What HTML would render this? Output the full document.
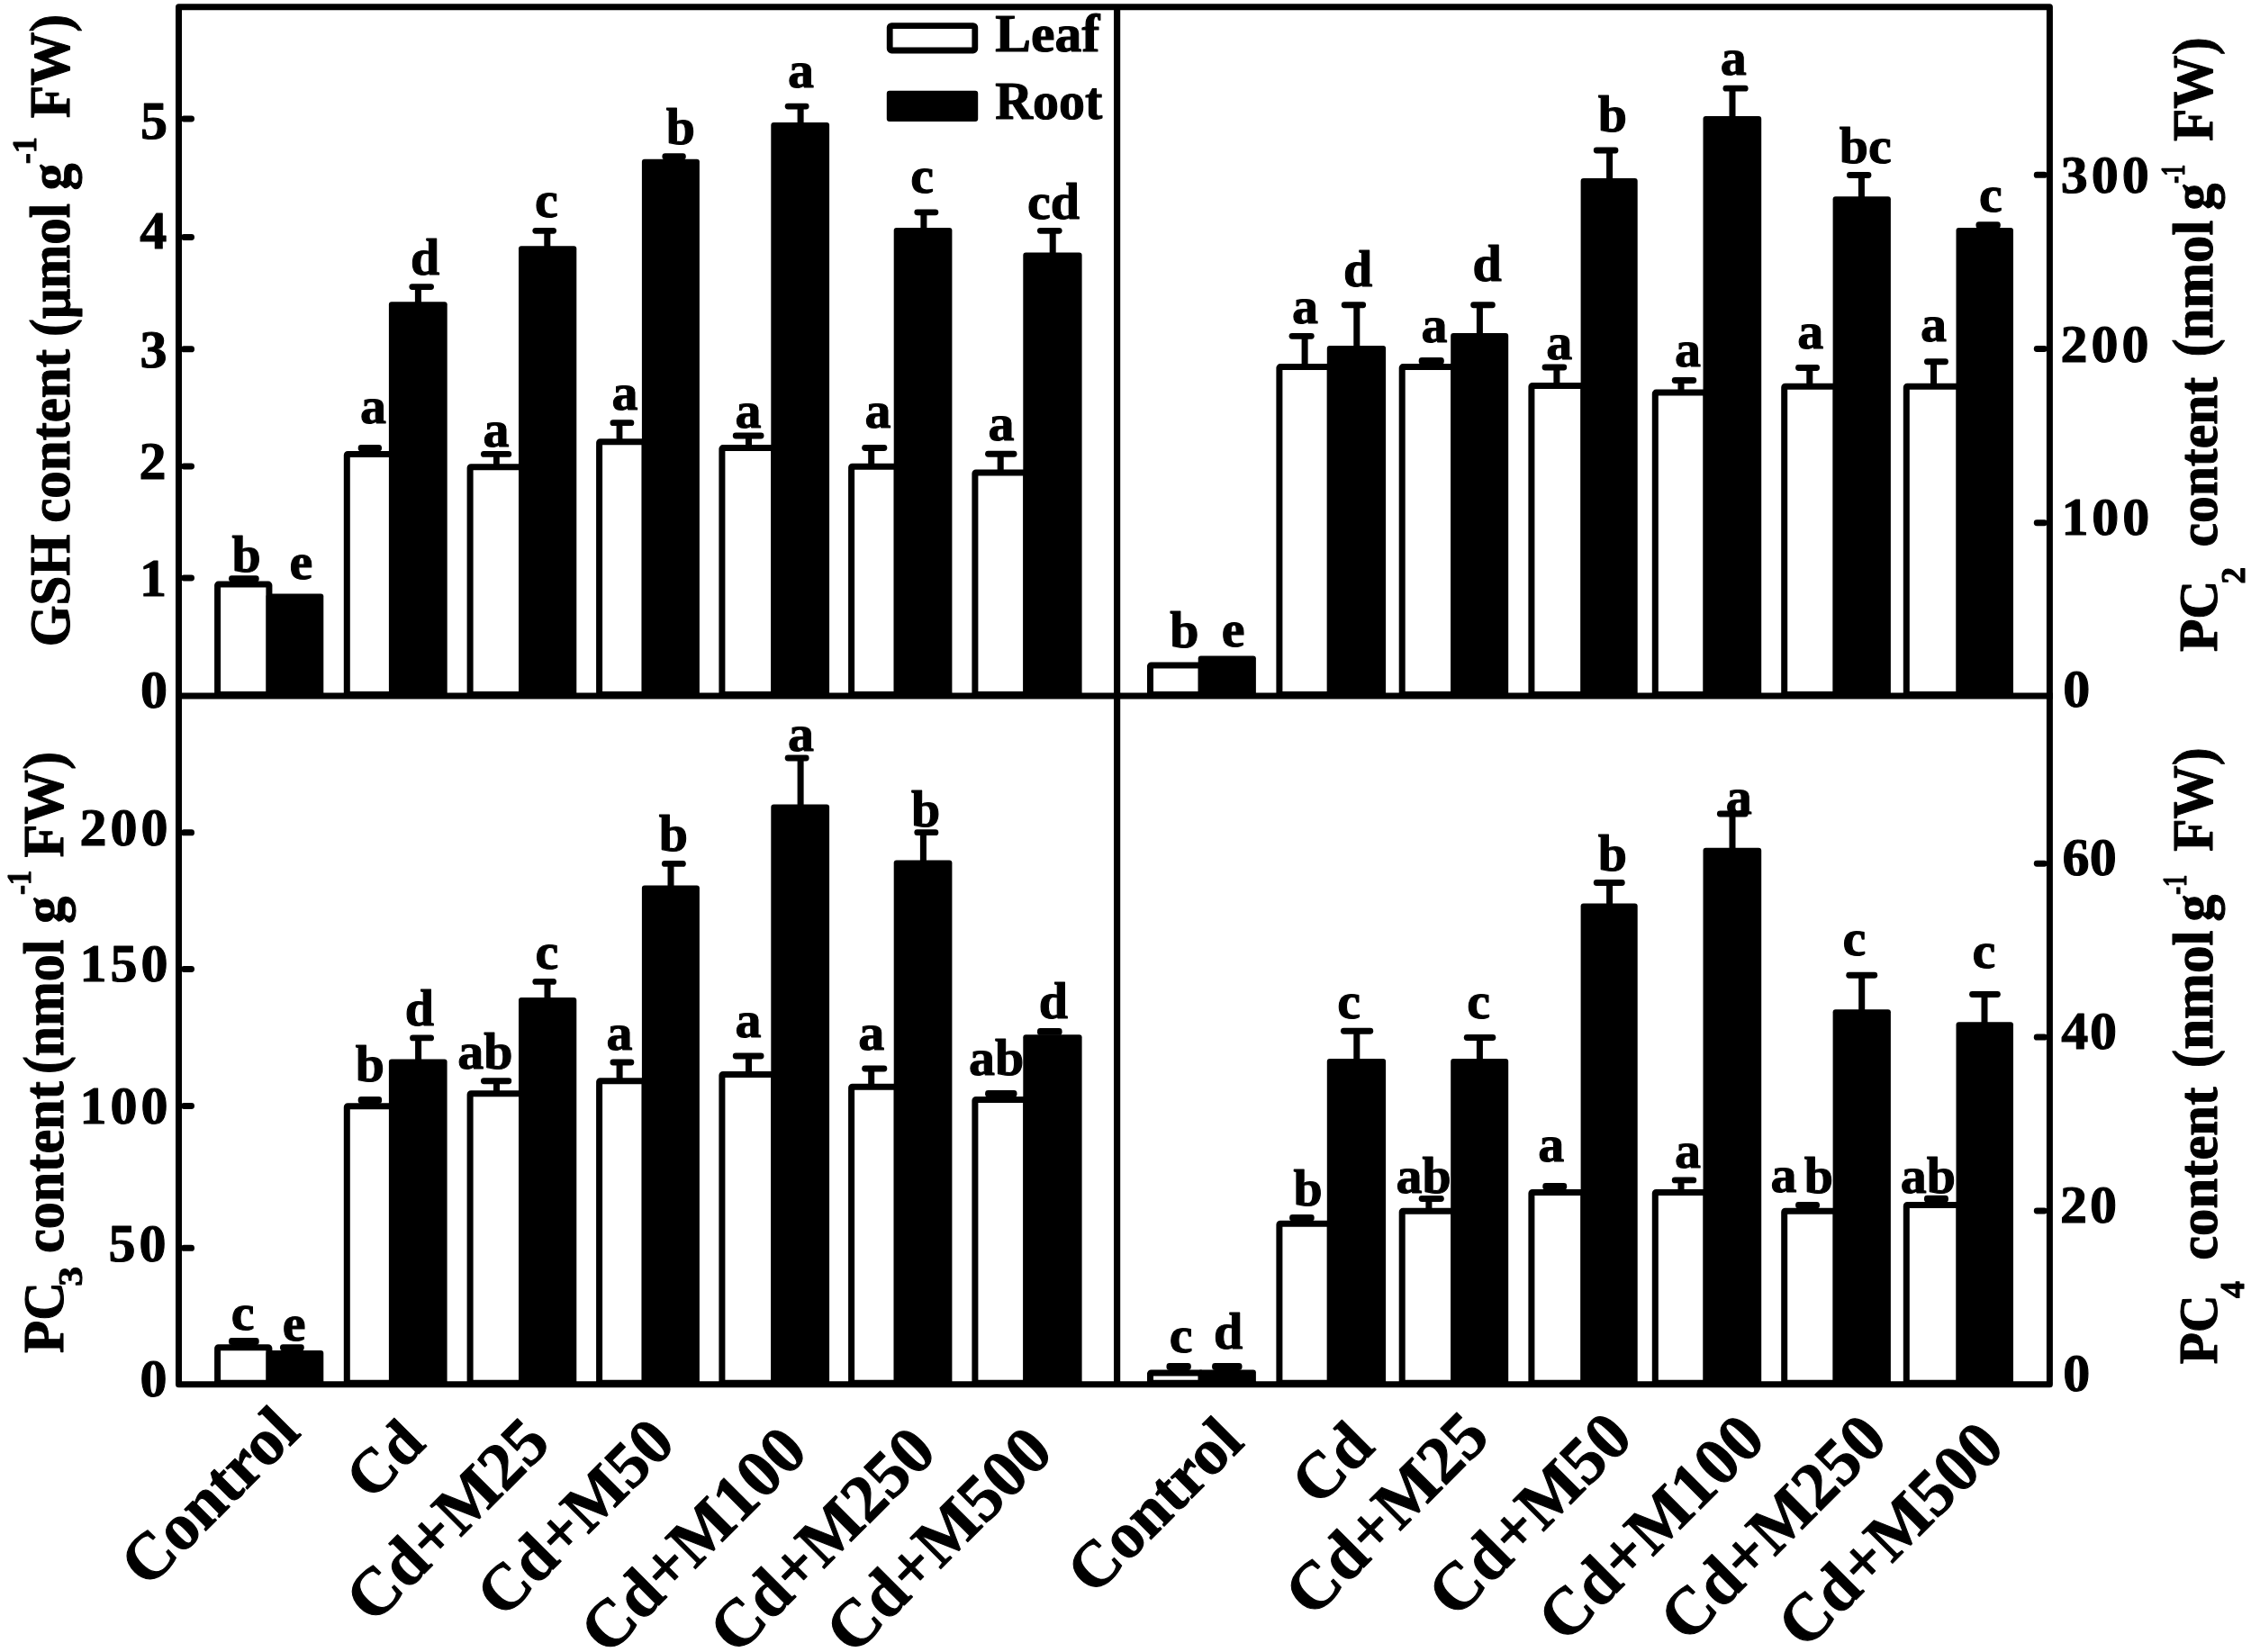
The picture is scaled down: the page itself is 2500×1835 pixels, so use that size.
<!DOCTYPE html>
<html><head><meta charset="utf-8"><title>GSH and PC content</title>
<style>
html,body{margin:0;padding:0;background:#fff;}
svg{display:block;}
text{font-family:"Liberation Serif",serif;font-weight:bold;fill:#000;stroke:#000;stroke-width:1.1px;stroke-linejoin:round;}
</style></head><body>
<svg width="2500" height="1835" viewBox="0 0 2500 1835">
<defs><filter id="soft" x="0" y="0" width="2500" height="1835" filterUnits="userSpaceOnUse"><feGaussianBlur stdDeviation="0.65"/></filter></defs>
<rect width="2500" height="1835" fill="#fff"/>
<g filter="url(#soft)">
<rect width="2500" height="1835" fill="#fff"/>
<rect x="241.6" y="649.1" width="57.3" height="122.4" fill="#fff" stroke="#000" stroke-width="7.0" rx="1"/>
<rect x="385.3" y="504.4" width="50.2" height="267.1" fill="#fff" stroke="#000" stroke-width="7.0" rx="1"/>
<rect x="522.1" y="518.8" width="57.4" height="252.7" fill="#fff" stroke="#000" stroke-width="7.0" rx="1"/>
<rect x="665.6" y="490.7" width="50.4" height="280.8" fill="#fff" stroke="#000" stroke-width="7.0" rx="1"/>
<rect x="801.9" y="497.6" width="57.9" height="273.9" fill="#fff" stroke="#000" stroke-width="7.0" rx="1"/>
<rect x="945.6" y="518.3" width="50.6" height="253.2" fill="#fff" stroke="#000" stroke-width="7.0" rx="1"/>
<rect x="1082.9" y="524.9" width="56.9" height="246.6" fill="#fff" stroke="#000" stroke-width="7.0" rx="1"/>
<rect x="295.6" y="659.5" width="63.7" height="113.5" fill="#000" rx="3"/>
<rect x="431.9" y="335.2" width="64.8" height="437.8" fill="#000" rx="3"/>
<rect x="576.0" y="273.2" width="64.3" height="499.8" fill="#000" rx="3"/>
<rect x="712.9" y="176.8" width="64.0" height="596.2" fill="#000" rx="3"/>
<rect x="856.3" y="136.1" width="64.8" height="636.9" fill="#000" rx="3"/>
<rect x="992.7" y="252.9" width="64.7" height="520.1" fill="#000" rx="3"/>
<rect x="1136.3" y="280.5" width="65.3" height="492.5" fill="#000" rx="3"/>
<rect x="254.0" y="639.2" width="33.7" height="7.3" fill="#000" rx="3.4"/>
<rect x="397.7" y="494.0" width="26.3" height="7.5" fill="#000" rx="3.4"/>
<rect x="548.0" y="504.4" width="6.8" height="12.9" fill="#000"/>
<rect x="534.0" y="501.0" width="34.2" height="6.8" fill="#000" rx="3.4"/>
<rect x="684.6" y="469.6" width="6.8" height="19.6" fill="#000"/>
<rect x="677.5" y="466.3" width="26.8" height="6.7" fill="#000" rx="3.4"/>
<rect x="828.0" y="484.0" width="7.0" height="12.1" fill="#000"/>
<rect x="813.8" y="480.5" width="34.7" height="7.0" fill="#000" rx="3.4"/>
<rect x="964.2" y="497.6" width="7.0" height="19.2" fill="#000"/>
<rect x="957.2" y="494.1" width="28.1" height="6.9" fill="#000" rx="3.4"/>
<rect x="1107.7" y="504.2" width="7.0" height="19.1" fill="#000"/>
<rect x="1094.1" y="500.8" width="35.4" height="6.9" fill="#000" rx="3.4"/>
<rect x="460.9" y="318.6" width="7.0" height="18.6" fill="#000"/>
<rect x="454.4" y="315.2" width="27.6" height="6.8" fill="#000" rx="3.4"/>
<rect x="604.3" y="256.3" width="7.0" height="18.9" fill="#000"/>
<rect x="591.4" y="252.9" width="26.6" height="6.8" fill="#000" rx="3.4"/>
<rect x="735.4" y="170.3" width="26.4" height="7.2" fill="#000" rx="3.4"/>
<rect x="885.6" y="118.1" width="7.0" height="20.0" fill="#000"/>
<rect x="871.7" y="114.7" width="26.9" height="6.8" fill="#000" rx="3.4"/>
<rect x="1022.4" y="235.8" width="7.0" height="19.1" fill="#000"/>
<rect x="1015.4" y="232.4" width="26.9" height="6.8" fill="#000" rx="3.4"/>
<rect x="1165.7" y="256.3" width="7.0" height="26.2" fill="#000"/>
<rect x="1152.0" y="252.9" width="27.6" height="6.8" fill="#000" rx="3.4"/>
<text x="257.5" y="634.9" font-size="58">b</text>
<text x="321.4" y="643.0" font-size="58">e</text>
<text x="400.0" y="469.8" font-size="58">a</text>
<text x="456.1" y="304.7" font-size="58">d</text>
<text x="536.5" y="496.4" font-size="58">a</text>
<text x="594.1" y="241.4" font-size="58">c</text>
<text x="679.6" y="454.6" font-size="58">a</text>
<text x="739.7" y="159.7" font-size="58">b</text>
<text x="816.6" y="475.0" font-size="58">a</text>
<text x="875.0" y="97.0" font-size="58">a</text>
<text x="960.6" y="475.2" font-size="58">a</text>
<text x="1011.3" y="213.7" font-size="58">c</text>
<text x="1097.4" y="488.5" font-size="58">a</text>
<text x="1141.1" y="242.5" font-size="58">cd</text>
<rect x="1277.5" y="739.0" width="56.7" height="32.5" fill="#fff" stroke="#000" stroke-width="7.0" rx="1"/>
<rect x="1420.9" y="407.6" width="56.4" height="363.9" fill="#fff" stroke="#000" stroke-width="7.0" rx="1"/>
<rect x="1557.2" y="407.6" width="57.5" height="363.9" fill="#fff" stroke="#000" stroke-width="7.0" rx="1"/>
<rect x="1700.9" y="428.4" width="57.9" height="343.1" fill="#fff" stroke="#000" stroke-width="7.0" rx="1"/>
<rect x="1838.3" y="436.1" width="56.7" height="335.4" fill="#fff" stroke="#000" stroke-width="7.0" rx="1"/>
<rect x="1981.7" y="429.3" width="57.4" height="342.2" fill="#fff" stroke="#000" stroke-width="7.0" rx="1"/>
<rect x="2117.3" y="429.3" width="58.7" height="342.2" fill="#fff" stroke="#000" stroke-width="7.0" rx="1"/>
<rect x="1330.7" y="728.6" width="64.2" height="44.4" fill="#000" rx="3"/>
<rect x="1473.8" y="384.1" width="65.3" height="388.9" fill="#000" rx="3"/>
<rect x="1611.2" y="369.9" width="64.0" height="403.1" fill="#000" rx="3"/>
<rect x="1755.6" y="198.1" width="63.1" height="574.9" fill="#000" rx="3"/>
<rect x="1891.5" y="129.1" width="64.7" height="643.9" fill="#000" rx="3"/>
<rect x="2035.6" y="218.3" width="64.3" height="554.7" fill="#000" rx="3"/>
<rect x="2172.5" y="253.0" width="63.5" height="520.0" fill="#000" rx="3"/>
<rect x="1445.6" y="373.3" width="7.0" height="32.8" fill="#000"/>
<rect x="1431.6" y="369.9" width="28.1" height="6.8" fill="#000" rx="3.4"/>
<rect x="1575.7" y="397.1" width="28.1" height="7.7" fill="#000" rx="3.4"/>
<rect x="1725.4" y="407.9" width="7.0" height="18.9" fill="#000"/>
<rect x="1712.6" y="404.5" width="27.6" height="6.9" fill="#000" rx="3.4"/>
<rect x="1863.5" y="422.4" width="7.0" height="12.2" fill="#000"/>
<rect x="1856.8" y="419.0" width="27.4" height="6.9" fill="#000" rx="3.4"/>
<rect x="2006.3" y="408.4" width="7.0" height="19.4" fill="#000"/>
<rect x="1994.1" y="405.0" width="26.9" height="6.9" fill="#000" rx="3.4"/>
<rect x="2144.0" y="401.8" width="7.0" height="26.1" fill="#000"/>
<rect x="2137.0" y="398.3" width="26.9" height="6.9" fill="#000" rx="3.4"/>
<rect x="1503.3" y="338.8" width="7.0" height="47.4" fill="#000"/>
<rect x="1489.7" y="335.3" width="27.4" height="6.9" fill="#000" rx="3.4"/>
<rect x="1639.9" y="338.8" width="7.0" height="33.1" fill="#000"/>
<rect x="1633.2" y="335.3" width="27.6" height="6.9" fill="#000" rx="3.4"/>
<rect x="1784.1" y="167.1" width="7.0" height="33.0" fill="#000"/>
<rect x="1769.8" y="163.6" width="27.6" height="6.9" fill="#000" rx="3.4"/>
<rect x="1920.5" y="98.2" width="7.0" height="32.9" fill="#000"/>
<rect x="1913.5" y="94.7" width="28.1" height="6.9" fill="#000" rx="3.4"/>
<rect x="2063.9" y="194.4" width="7.0" height="25.9" fill="#000"/>
<rect x="2051.0" y="191.0" width="27.4" height="6.9" fill="#000" rx="3.4"/>
<rect x="2194.5" y="246.2" width="27.3" height="7.6" fill="#000" rx="3.4"/>
<text x="1299.3" y="718.5" font-size="58">b</text>
<text x="1356.7" y="718.2" font-size="58">e</text>
<text x="1434.9" y="358.8" font-size="58">a</text>
<text x="1491.9" y="318.3" font-size="58">d</text>
<text x="1578.6" y="379.6" font-size="58">a</text>
<text x="1635.5" y="311.5" font-size="58">d</text>
<text x="1717.2" y="399.1" font-size="58">a</text>
<text x="1774.7" y="146.0" font-size="58">b</text>
<text x="1859.9" y="406.9" font-size="58">a</text>
<text x="1910.7" y="83.2" font-size="58">a</text>
<text x="1996.3" y="386.7" font-size="58">a</text>
<text x="2042.8" y="180.6" font-size="58">bc</text>
<text x="2133.1" y="378.8" font-size="58">a</text>
<text x="2198.0" y="234.6" font-size="58">c</text>
<rect x="241.6" y="1496.8" width="57.3" height="39.5" fill="#fff" stroke="#000" stroke-width="7.0" rx="1"/>
<rect x="385.3" y="1228.8" width="50.2" height="307.5" fill="#fff" stroke="#000" stroke-width="7.0" rx="1"/>
<rect x="522.1" y="1214.7" width="57.4" height="321.6" fill="#fff" stroke="#000" stroke-width="7.0" rx="1"/>
<rect x="665.6" y="1200.7" width="50.4" height="335.6" fill="#fff" stroke="#000" stroke-width="7.0" rx="1"/>
<rect x="801.9" y="1193.4" width="57.9" height="342.9" fill="#fff" stroke="#000" stroke-width="7.0" rx="1"/>
<rect x="945.6" y="1207.3" width="50.6" height="329.0" fill="#fff" stroke="#000" stroke-width="7.0" rx="1"/>
<rect x="1082.9" y="1221.5" width="56.9" height="314.8" fill="#fff" stroke="#000" stroke-width="7.0" rx="1"/>
<rect x="295.6" y="1499.9" width="63.7" height="37.9" fill="#000" rx="3"/>
<rect x="431.9" y="1176.5" width="64.7" height="361.3" fill="#000" rx="3"/>
<rect x="576.0" y="1108.0" width="64.3" height="429.8" fill="#000" rx="3"/>
<rect x="712.9" y="983.5" width="64.0" height="554.3" fill="#000" rx="3"/>
<rect x="856.3" y="893.6" width="64.8" height="644.2" fill="#000" rx="3"/>
<rect x="992.7" y="955.4" width="64.7" height="582.4" fill="#000" rx="3"/>
<rect x="1136.3" y="1149.2" width="65.3" height="388.6" fill="#000" rx="3"/>
<rect x="254.0" y="1486.0" width="33.7" height="8.0" fill="#000" rx="3.4"/>
<rect x="397.7" y="1218.0" width="26.4" height="8.0" fill="#000" rx="3.4"/>
<rect x="548.0" y="1200.7" width="7.0" height="12.5" fill="#000"/>
<rect x="534.0" y="1197.2" width="34.2" height="7.0" fill="#000" rx="3.4"/>
<rect x="684.6" y="1180.0" width="7.0" height="19.2" fill="#000"/>
<rect x="677.5" y="1176.5" width="26.8" height="7.0" fill="#000" rx="3.4"/>
<rect x="828.0" y="1173.0" width="7.0" height="18.9" fill="#000"/>
<rect x="813.8" y="1169.5" width="34.7" height="7.0" fill="#000" rx="3.4"/>
<rect x="964.2" y="1187.0" width="7.0" height="18.8" fill="#000"/>
<rect x="957.2" y="1183.5" width="28.1" height="6.9" fill="#000" rx="3.4"/>
<rect x="1094.1" y="1211.0" width="35.4" height="7.7" fill="#000" rx="3.4"/>
<rect x="311.0" y="1493.2" width="26.8" height="7.3" fill="#000" rx="3.4"/>
<rect x="461.1" y="1152.8" width="7.0" height="25.7" fill="#000"/>
<rect x="455.1" y="1149.4" width="26.9" height="6.9" fill="#000" rx="3.4"/>
<rect x="604.5" y="1090.3" width="7.0" height="19.7" fill="#000"/>
<rect x="591.4" y="1086.9" width="26.6" height="6.9" fill="#000" rx="3.4"/>
<rect x="741.5" y="959.3" width="7.0" height="26.2" fill="#000"/>
<rect x="734.9" y="955.9" width="26.9" height="6.9" fill="#000" rx="3.4"/>
<rect x="885.6" y="842.0" width="7.0" height="53.6" fill="#000"/>
<rect x="871.7" y="838.6" width="26.9" height="6.9" fill="#000" rx="3.4"/>
<rect x="1021.9" y="924.7" width="7.0" height="32.7" fill="#000"/>
<rect x="1015.4" y="921.2" width="26.9" height="6.9" fill="#000" rx="3.4"/>
<rect x="1152.0" y="1142.0" width="27.6" height="7.8" fill="#000" rx="3.4"/>
<text x="256.7" y="1476.5" font-size="58">c</text>
<text x="313.7" y="1488.9" font-size="58">e</text>
<text x="394.7" y="1200.7" font-size="58">b</text>
<text x="449.7" y="1139.0" font-size="58">d</text>
<text x="508.2" y="1186.6" font-size="58">ab</text>
<text x="594.4" y="1075.7" font-size="58">c</text>
<text x="673.5" y="1165.6" font-size="58">a</text>
<text x="731.8" y="944.9" font-size="58">b</text>
<text x="816.6" y="1152.1" font-size="58">a</text>
<text x="875.0" y="833.6" font-size="58">a</text>
<text x="953.3" y="1165.9" font-size="58">a</text>
<text x="1011.9" y="917.7" font-size="58">b</text>
<text x="1076.1" y="1193.8" font-size="58">ab</text>
<text x="1153.8" y="1131.2" font-size="58">d</text>
<rect x="1277.5" y="1524.9" width="56.7" height="11.4" fill="#fff" stroke="#000" stroke-width="7.0" rx="1"/>
<rect x="1420.9" y="1359.2" width="56.4" height="177.1" fill="#fff" stroke="#000" stroke-width="7.0" rx="1"/>
<rect x="1557.2" y="1345.3" width="57.5" height="191.0" fill="#fff" stroke="#000" stroke-width="7.0" rx="1"/>
<rect x="1700.9" y="1324.5" width="57.9" height="211.8" fill="#fff" stroke="#000" stroke-width="7.0" rx="1"/>
<rect x="1838.3" y="1324.5" width="56.7" height="211.8" fill="#fff" stroke="#000" stroke-width="7.0" rx="1"/>
<rect x="1981.7" y="1345.3" width="57.4" height="191.0" fill="#fff" stroke="#000" stroke-width="7.0" rx="1"/>
<rect x="2117.3" y="1338.5" width="58.7" height="197.8" fill="#fff" stroke="#000" stroke-width="7.0" rx="1"/>
<rect x="1330.7" y="1521.4" width="64.2" height="16.4" fill="#000" rx="3"/>
<rect x="1473.8" y="1176.0" width="65.3" height="361.8" fill="#000" rx="3"/>
<rect x="1611.2" y="1176.0" width="64.0" height="361.8" fill="#000" rx="3"/>
<rect x="1755.6" y="1003.5" width="63.1" height="534.3" fill="#000" rx="3"/>
<rect x="1891.5" y="941.7" width="64.7" height="596.1" fill="#000" rx="3"/>
<rect x="2035.6" y="1121.3" width="64.3" height="416.5" fill="#000" rx="3"/>
<rect x="2172.5" y="1135.2" width="63.5" height="402.6" fill="#000" rx="3"/>
<rect x="1295.5" y="1514.1" width="27.3" height="7.9" fill="#000" rx="3.4"/>
<rect x="1432.1" y="1349.0" width="27.6" height="7.4" fill="#000" rx="3.4"/>
<rect x="1583.4" y="1331.5" width="7.0" height="12.3" fill="#000"/>
<rect x="1575.7" y="1328.0" width="28.1" height="7.0" fill="#000" rx="3.4"/>
<rect x="1713.3" y="1314.1" width="26.9" height="7.6" fill="#000" rx="3.4"/>
<rect x="1863.5" y="1310.8" width="7.0" height="12.2" fill="#000"/>
<rect x="1856.8" y="1307.4" width="27.4" height="6.9" fill="#000" rx="3.4"/>
<rect x="1994.1" y="1334.9" width="26.9" height="7.6" fill="#000" rx="3.4"/>
<rect x="2137.0" y="1327.8" width="26.9" height="7.9" fill="#000" rx="3.4"/>
<rect x="1346.1" y="1514.1" width="33.4" height="7.9" fill="#000" rx="3.4"/>
<rect x="1503.3" y="1145.2" width="7.0" height="32.8" fill="#000"/>
<rect x="1489.0" y="1141.8" width="36.2" height="6.9" fill="#000" rx="3.4"/>
<rect x="1639.9" y="1152.5" width="7.0" height="25.5" fill="#000"/>
<rect x="1625.8" y="1149.0" width="35.5" height="6.9" fill="#000" rx="3.4"/>
<rect x="1784.1" y="980.5" width="7.0" height="25.0" fill="#000"/>
<rect x="1769.8" y="977.1" width="34.9" height="6.9" fill="#000" rx="3.4"/>
<rect x="1920.5" y="904.0" width="7.0" height="39.7" fill="#000"/>
<rect x="1906.9" y="900.6" width="34.7" height="6.9" fill="#000" rx="3.4"/>
<rect x="2064.2" y="1083.2" width="7.0" height="40.0" fill="#000"/>
<rect x="2050.3" y="1079.8" width="34.9" height="6.9" fill="#000" rx="3.4"/>
<rect x="2200.5" y="1104.5" width="7.0" height="32.8" fill="#000"/>
<rect x="2187.1" y="1101.0" width="34.7" height="6.9" fill="#000" rx="3.4"/>
<text x="1298.7" y="1502.0" font-size="58">c</text>
<text x="1348.0" y="1497.6" font-size="58">d</text>
<text x="1436.5" y="1338.8" font-size="58">b</text>
<text x="1485.2" y="1131.0" font-size="58">c</text>
<text x="1550.6" y="1325.0" font-size="58">ab</text>
<text x="1629.2" y="1131.0" font-size="58">c</text>
<text x="1708.3" y="1290.1" font-size="58">a</text>
<text x="1774.7" y="966.6" font-size="58">b</text>
<text x="1859.9" y="1296.5" font-size="58">a</text>
<text x="1916.8" y="903.7" font-size="58">a</text>
<text x="1966.5" y="1324.3" font-size="58">a</text>
<text x="2003.8" y="1325.0" font-size="58">b</text>
<text x="2046.5" y="1061.4" font-size="58">c</text>
<text x="2110.8" y="1325.0" font-size="58">ab</text>
<text x="2190.6" y="1075.3" font-size="58">c</text>
<path d="M198.5,7.8H2276.4V1537.8H198.5Z" fill="none" stroke="#000" stroke-width="7" stroke-linejoin="round"/>
<rect x="195.0" y="769.5" width="2085.0" height="7.0" fill="#000"/>
<rect x="1237.0" y="10.0" width="7.2" height="1530.4" fill="#000"/>
<rect x="201.0" y="128.5" width="15.0" height="7.0" fill="#000" rx="3.4"/>
<rect x="201.0" y="260.0" width="15.0" height="7.0" fill="#000" rx="3.4"/>
<rect x="201.0" y="384.3" width="15.0" height="7.0" fill="#000" rx="3.4"/>
<rect x="201.0" y="514.5" width="15.0" height="7.0" fill="#000" rx="3.4"/>
<rect x="201.0" y="638.5" width="15.0" height="7.0" fill="#000" rx="3.4"/>
<rect x="201.0" y="921.3" width="15.0" height="7.0" fill="#000" rx="3.4"/>
<rect x="201.0" y="1072.9" width="15.0" height="7.0" fill="#000" rx="3.4"/>
<rect x="201.0" y="1225.0" width="15.0" height="7.0" fill="#000" rx="3.4"/>
<rect x="201.0" y="1382.8" width="15.0" height="7.0" fill="#000" rx="3.4"/>
<rect x="2258.8" y="190.8" width="15.0" height="7.0" fill="#000" rx="3.4"/>
<rect x="2258.8" y="384.0" width="15.0" height="7.0" fill="#000" rx="3.4"/>
<rect x="2258.8" y="577.2" width="15.0" height="7.0" fill="#000" rx="3.4"/>
<rect x="2258.8" y="955.7" width="15.0" height="7.0" fill="#000" rx="3.4"/>
<rect x="2258.8" y="1148.6" width="15.0" height="7.0" fill="#000" rx="3.4"/>
<rect x="2258.8" y="1341.5" width="15.0" height="7.0" fill="#000" rx="3.4"/>
<text x="155.9" y="153.5" font-size="60">5</text>
<text x="155.2" y="275.8" font-size="60">4</text>
<text x="155.5" y="407.6" font-size="60">3</text>
<text x="154.5" y="532.4" font-size="60">2</text>
<text x="154.9" y="662.3" font-size="60">1</text>
<text x="155.9" y="785.8" font-size="60">0</text>
<text x="88.5" y="938.6" font-size="60" letter-spacing="4.00">200</text>
<text x="88.6" y="1090.1" font-size="60" letter-spacing="4.00">150</text>
<text x="88.6" y="1248.0" font-size="60" letter-spacing="4.00">100</text>
<text x="120.5" y="1400.6" font-size="60" letter-spacing="4.00">50</text>
<text x="155.5" y="1550.8" font-size="60">0</text>
<text x="2288.8" y="214.1" font-size="60" letter-spacing="4.00">300</text>
<text x="2288.6" y="401.5" font-size="60" letter-spacing="4.00">200</text>
<text x="2289.4" y="593.7" font-size="60" letter-spacing="3.94">100</text>
<text x="2291.2" y="784.6" font-size="60">0</text>
<text x="2290.4" y="971.9" font-size="60" letter-spacing="0.44">60</text>
<text x="2289.2" y="1164.6" font-size="60" letter-spacing="1.71">40</text>
<text x="2288.0" y="1358.2" font-size="60" letter-spacing="2.90">20</text>
<text x="2291.2" y="1544.9" font-size="60">0</text>
<rect x="988.2" y="28.6" width="94.6" height="27.4" fill="#fff" stroke="#000" stroke-width="6.8" rx="2"/>
<rect x="984.8" y="100.7" width="101.4" height="34.4" fill="#000" rx="3"/>
<text x="1105.3" y="56.7" font-size="60" textLength="116" lengthAdjust="spacingAndGlyphs">Leaf</text>
<text x="1105.3" y="131.9" font-size="60" textLength="119" lengthAdjust="spacingAndGlyphs">Root</text>
<text transform="translate(76.6,715.4) rotate(-90) scale(0.9362,1)" x="-3.08" y="0" font-size="63">GSH</text>
<text transform="translate(76.6,578.8) rotate(-90) scale(0.9674,1)" x="-2.15" y="0" font-size="63">content</text>
<text transform="translate(76.6,371.1) rotate(-90) scale(0.9344,1)" x="-2.77" y="0" font-size="63">(μmol</text>
<text transform="translate(76.6,209.8) rotate(-90) scale(0.9479,1)" x="-1.66" y="0" font-size="63">g</text>
<text transform="translate(40.3,180.7) rotate(-90) scale(0.9401,1)" x="-1.39" y="0" font-size="38">-1</text>
<text transform="translate(76.6,130.3) rotate(-90) scale(0.9425,1)" x="-1.08" y="0" font-size="63">FW)</text>
<text transform="translate(69.8,1502.0) rotate(-90) scale(0.9423,1)" x="-1.08" y="0" font-size="63">PC</text>
<text transform="translate(91.2,1427.0) rotate(-90) scale(1.1866,1)" x="-1.39" y="0" font-size="37">3</text>
<text transform="translate(69.8,1390.0) rotate(-90) scale(0.9567,1)" x="-2.15" y="0" font-size="63">content</text>
<text transform="translate(69.8,1190.5) rotate(-90) scale(0.9489,1)" x="-2.77" y="0" font-size="63">(nmol</text>
<text transform="translate(69.8,1024.3) rotate(-90) scale(0.9513,1)" x="-1.66" y="0" font-size="63">g</text>
<text transform="translate(34.0,992.9) rotate(-90) scale(0.8623,1)" x="-1.39" y="0" font-size="38">-1</text>
<text transform="translate(69.8,951.5) rotate(-90) scale(0.9611,1)" x="-1.08" y="0" font-size="63">FW)</text>
<text transform="translate(2461.7,723.1) rotate(-90) scale(0.9588,1)" x="-1.06" y="0" font-size="62">PC</text>
<text transform="translate(2493.2,646.9) rotate(-90) scale(1.0028,1)" x="-1.55" y="0" font-size="37">2</text>
<text transform="translate(2461.7,605.5) rotate(-90) scale(0.9613,1)" x="-2.12" y="0" font-size="62">content</text>
<text transform="translate(2457.3,393.8) rotate(-90) scale(0.9638,1)" x="-2.77" y="0" font-size="63">(nmol</text>
<text transform="translate(2457.3,232.0) rotate(-90) scale(0.9479,1)" x="-1.66" y="0" font-size="63">g</text>
<text transform="translate(2426.0,202.9) rotate(-90) scale(0.6824,1)" x="-1.35" y="0" font-size="37">-1</text>
<text transform="translate(2457.3,155.9) rotate(-90) scale(0.9425,1)" x="-1.08" y="0" font-size="63">FW)</text>
<text transform="translate(2461.7,1514.3) rotate(-90) scale(0.9289,1)" x="-1.06" y="0" font-size="62">PC</text>
<text transform="translate(2492.0,1441.5) rotate(-90) scale(1.0227,1)" x="-0.51" y="0" font-size="37">4</text>
<text transform="translate(2461.7,1397.8) rotate(-90) scale(0.9794,1)" x="-2.12" y="0" font-size="62">content</text>
<text transform="translate(2457.3,1183.5) rotate(-90) scale(0.9691,1)" x="-2.77" y="0" font-size="63">(nmol</text>
<text transform="translate(2457.3,1022.0) rotate(-90) scale(0.9479,1)" x="-1.66" y="0" font-size="63">g</text>
<text transform="translate(2428.0,992.9) rotate(-90) scale(0.7223,1)" x="-1.35" y="0" font-size="37">-1</text>
<text transform="translate(2457.3,944.7) rotate(-90) scale(0.9417,1)" x="-1.08" y="0" font-size="63">FW)</text>
<text transform="translate(335.8,1593.1) rotate(-45)" font-size="73.4" text-anchor="end">Control</text>
<text transform="translate(474.4,1605.8) rotate(-45)" font-size="68.7" text-anchor="end">Cd</text>
<text transform="translate(613.6,1605.8) rotate(-45)" font-size="74.4" text-anchor="end">Cd+M25</text>
<text transform="translate(752.2,1605.4) rotate(-45)" font-size="72.2" text-anchor="end">Cd+M50</text>
<text transform="translate(899.5,1615.4) rotate(-45)" font-size="74.1" text-anchor="end">Cd+M100</text>
<text transform="translate(1042.3,1615.6) rotate(-45)" font-size="73.9" text-anchor="end">Cd+M250</text>
<text transform="translate(1171.9,1615.5) rotate(-45)" font-size="74.0" text-anchor="end">Cd+M500</text>
<text transform="translate(1383.8,1604.3) rotate(-45)" font-size="72.2" text-anchor="end">Control</text>
<text transform="translate(1528.8,1609.4) rotate(-45)" font-size="72.0" text-anchor="end">Cd</text>
<text transform="translate(1656.7,1599.0) rotate(-45)" font-size="74.4" text-anchor="end">Cd+M25</text>
<text transform="translate(1815.7,1599.8) rotate(-45)" font-size="74.4" text-anchor="end">Cd+M50</text>
<text transform="translate(1963.2,1601.8) rotate(-45)" font-size="74.1" text-anchor="end">Cd+M100</text>
<text transform="translate(2098.7,1601.7) rotate(-45)" font-size="74.1" text-anchor="end">Cd+M250</text>
<text transform="translate(2228.6,1609.6) rotate(-45)" font-size="73.8" text-anchor="end">Cd+M500</text>
</g>
</svg>
</body></html>
